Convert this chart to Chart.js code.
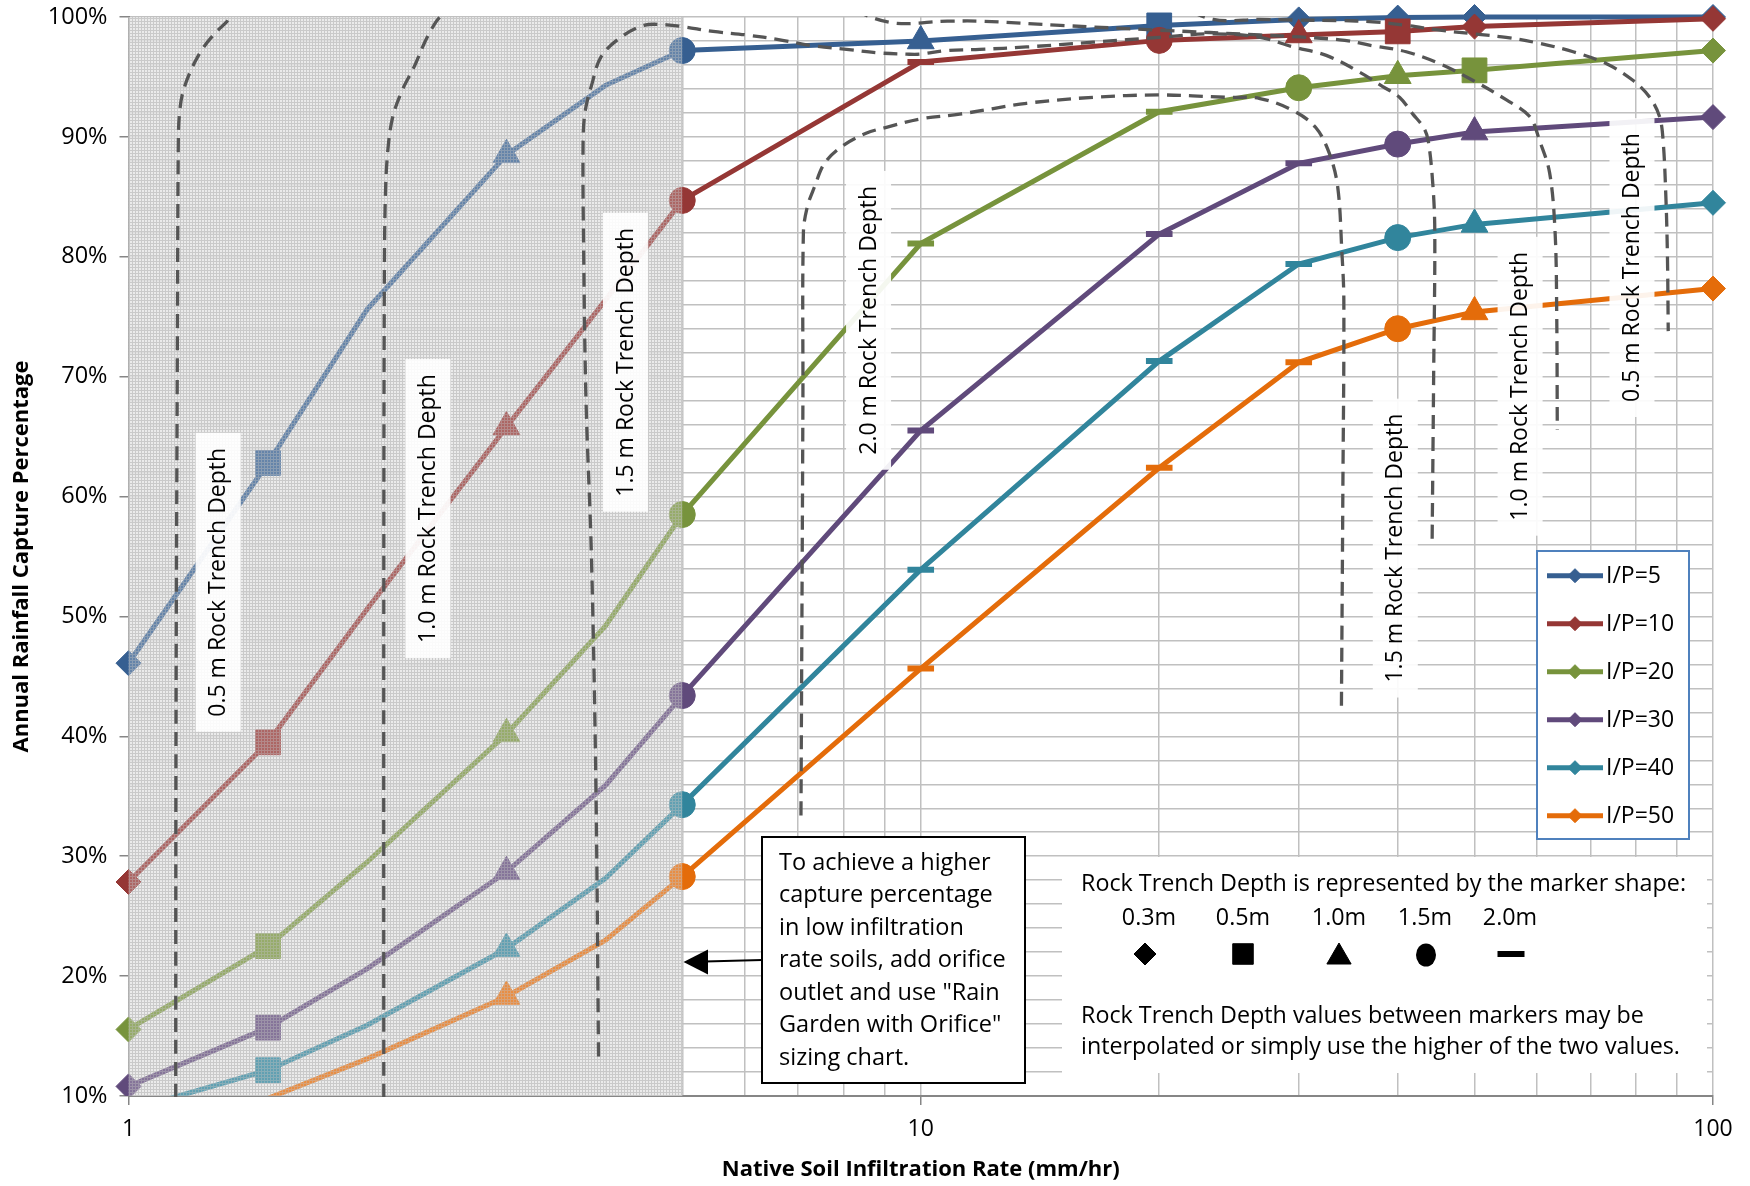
<!DOCTYPE html>
<html>
<head>
<meta charset="utf-8">
<script src="https://cdn.jsdelivr.net/npm/chart.js@4.4.1/dist/chart.umd.min.js"></script>
<style>
  html, body { margin: 0; padding: 0; background: #fff; }
  #wrap { width: 1750px; height: 1186px; position: relative; }
</style>
</head>
<body>
<div id="wrap"><canvas id="chart" width="1750" height="1186"></canvas></div>
<script>
// infiltration rates (mm/hr) where each curve was evaluated
const rates = [1, 1.5, 2, 3, 4, 5, 10, 20, 30, 40, 50, 100];
const seriesNames = ['I/P=5', 'I/P=10', 'I/P=20', 'I/P=30', 'I/P=40', 'I/P=50'];

// annual rainfall capture (%)
const ip5  = [46.1, 62.8, 75.6, 88.5, 94.3, 97.2, 98.0, 99.3, 99.8, 99.95, 100, 100];
const ip10 = [27.85, 39.5, 50.6, 65.8, 76.4, 84.7, 96.25, 98.05, 98.5, 98.8, 99.2, 99.85];
const ip20 = [15.55, 22.5, 29.5, 40.2, 49.2, 58.5, 81.1, 92.1, 94.1, 95.1, 95.55, 97.2];
const ip30 = [10.8, 15.7, 20.6, 28.7, 35.9, 43.4, 65.5, 81.9, 87.8, 89.4, 90.4, 91.65];
const ip40 = [8.8, 12.15, 15.9, 22.3, 28.15, 34.3, 53.9, 71.3, 79.4, 81.6, 82.7, 84.5];
const ip50 = [6.0, 9.8, 13.1, 18.3, 23.0, 28.3, 45.65, 62.4, 71.2, 74.0, 75.4, 77.35];

// rock trench depth (m) shown by the marker at each point, null = no marker
const depth5  = [0.3, 0.5, null, 1.0, null, 1.5, 1.0, 0.5, 0.3, 0.3, 0.3, 0.3];
const depth10 = [0.3, 0.5, null, 1.0, null, 1.5, 2.0, 1.5, 1.0, 0.5, 0.3, 0.3];
const depth20 = [0.3, 0.5, null, 1.0, null, 1.5, 2.0, 2.0, 1.5, 1.0, 0.5, 0.3];
const depth30 = [0.3, 0.5, null, 1.0, null, 1.5, 2.0, 2.0, 2.0, 1.5, 1.0, 0.3];
const depth40 = [0.3, 0.5, null, 1.0, null, 1.5, 2.0, 2.0, 2.0, 1.5, 1.0, 0.3];
const depth50 = [0.3, 0.5, null, 1.0, null, 1.5, 2.0, 2.0, 2.0, 1.5, 1.0, 0.3];

// rock trench depth contours [rate, capture %] (parts above 100% run off the chart)
const contour05 = [[1.147, 8], [1.148, 40], [1.153, 75], [1.156, 90], [1.16, 92], [1.17, 93.6], [1.196, 95.4],
  [1.236, 97.2], [1.28, 98.5], [1.33, 99.6], [1.36, 100.3], [2, 103], [6, 104], [14, 103], [20, 101.5],
  [23.4, 99.8], [26.8, 99.8], [29.5, 99.75], [33.8, 99.7], [37.2, 99.6], [41.0, 99.3], [45.2, 98.9],
  [49.8, 98.6], [54.8, 98.3], [60.4, 97.8], [66.6, 97.1], [73.4, 96.1], [79.3, 94.7], [83.2, 93.3],
  [85.6, 91.7], [86.5, 89.7], [87.2, 85], [87.6, 80], [87.8, 73.8]];
const contour10 = [[2.10, 8], [2.10, 50], [2.103, 76.4], [2.109, 84.7], [2.125, 88.9], [2.156, 91.7],
  [2.216, 93.9], [2.292, 95.8], [2.395, 98.6], [2.505, 100.3], [3, 102.5], [5, 103], [7.5, 101.5],
  [9.14, 99.55], [10.8, 99.65], [11.9, 99.65], [15, 99.3], [20, 98.9], [26.8, 98.5], [33.8, 98.1],
  [37.2, 97.6], [41.0, 97.1], [45.2, 96.1], [49.8, 94.7], [54.8, 93.1], [58.7, 91.7], [60.4, 89.7],
  [62.2, 87], [63.2, 82], [63.5, 75], [63.6, 65.6]];
const contour15 = [[3.92, 13.3], [3.89, 36], [3.84, 55], [3.78, 68], [3.755, 80], [3.748, 89.7],
  [3.772, 92.2], [3.845, 94.4], [3.95, 96.7], [4.18, 98.3], [4.47, 99.3], [4.78, 99.35], [5.01, 99.2],
  [5.47, 98.8], [6.03, 98.5], [6.64, 98.1], [7.31, 97.6], [8.06, 97.3], [8.88, 97.0], [9.6, 96.9],
  [9.97, 96.9], [10.78, 97.2], [11.87, 97.3], [13.6, 97.5], [16.5, 97.9], [20.0, 98.3], [23.4, 98.6],
  [26.8, 98.3], [29.5, 97.5], [32.5, 96.8], [35.8, 95.4], [38.3, 94.2], [40.2, 93.3], [41.8, 91.9],
  [43.1, 90.8], [43.7, 89.7], [44.3, 86], [44.55, 82], [44.4, 70], [44.2, 55.8]];
const contour20 = [[7.06, 33.4], [7.10, 68.0], [7.11, 82.0], [7.19, 84.15], [7.34, 85.8], [7.56, 87.8],
  [7.95, 89.2], [8.53, 90.3], [9.05, 90.8], [10.0, 91.5], [11.2, 91.9], [13.6, 92.8], [16.5, 93.3],
  [20.0, 93.5], [24.3, 93.3], [26.8, 93.2], [29.5, 92.2], [31.5, 90.8], [32.8, 88.6], [33.6, 85.8],
  [34.0, 80.5], [34.2, 76.4], [34.1, 60], [33.96, 42.3]];

// contour labels: [text, rate, capture %]
const contourLabels = [
  ['0.5 m Rock Trench Depth', 1.296, 52.85],
  ['1.0 m Rock Trench Depth', 2.384, 59.0],
  ['1.5 m Rock Trench Depth', 4.233, 71.2],
  ['2.0 m Rock Trench Depth', 8.58, 74.7],
  ['1.5 m Rock Trench Depth', 39.66, 55.7],
  ['1.0 m Rock Trench Depth', 57.0, 69.2],
  ['0.5 m Rock Trench Depth', 78.9, 79.1]
];

const xGridValues = [1, 2, 3, 4, 5, 6, 7, 8, 9, 10, 20, 30, 40, 50, 60, 70, 80, 90, 100];
const xLabelValues = [1, 10, 100];

const series = [ip5, ip10, ip20, ip30, ip40, ip50];
const depths = [depth5, depth10, depth20, depth30, depth40, depth50];
const colors = ['#365F91', '#953735', '#77933C', '#604A7B', '#31859C', '#E46C0A'];

const markerStyle = { 0.3: 'rectRot', 0.5: 'rect', 1: 'triangle', 1.5: 'circle', 2: 'line' };
const markerRadius = { 0.3: 12.5, 0.5: 17.5, 1: 15.5, 1.5: 13, 2: 13.3 };

Chart.defaults.font.family = '"Open Sans", sans-serif';
Chart.defaults.color = '#000';

function tile(size, paint) {
  const c = document.createElement('canvas');
  c.width = size; c.height = size;
  paint(c.getContext('2d'));
  return c;
}
// grey screen under the data in the 1-5 mm/hr band
const shadeTile = tile(3, p => {
  p.fillStyle = 'rgba(225,225,225,0.75)';
  p.fillRect(0, 0, 3, 3);
  p.fillStyle = 'rgba(185,185,185,0.75)';
  p.fillRect(0, 0, 3, 1);
  p.fillRect(0, 1, 1, 2);
});
// light grain on top of the data in that band
const grainTile = tile(3, p => {
  p.fillStyle = 'rgba(205,205,205,0.55)';
  p.fillRect(0, 0, 3, 1);
  p.fillRect(0, 1, 1, 2);
  p.fillStyle = 'rgba(245,245,245,0.25)';
  p.fillRect(1, 1, 2, 2);
});

const seriesSets = series.map((vals, i) => ({
  label: seriesNames[i],
  data: vals.map((v, j) => ({ x: rates[j], y: v })),
  borderColor: colors[i],
  backgroundColor: colors[i],
  borderWidth: 5,
  tension: 0,
  order: 6 - i,
  clip: { left: 30, top: 30, right: 30, bottom: 0 },
  pointStyle: ctx => markerStyle[depths[i][ctx.dataIndex]] || 'circle',
  pointRadius: ctx => {
    const d = depths[i][ctx.dataIndex];
    if (d == null || vals[ctx.dataIndex] < 10) return 0;
    return markerRadius[d];
  },
  pointBorderWidth: ctx => depths[i][ctx.dataIndex] === 2 ? 6 : 1,
  pointHoverRadius: 0
}));

const contourSets = [contour05, contour10, contour15, contour20].map(c => ({
  label: 'contour',
  data: c.map(p => ({ x: p[0], y: p[1] })),
  borderColor: '#555555',
  borderWidth: 3.3,
  borderDash: [14, 8],
  pointRadius: 0,
  tension: 0.35,
  order: 0,
  clip: 1,
  fill: false
}));

function vLabel(ctx, text, cx, cy) {
  ctx.save();
  ctx.translate(cx, cy);
  ctx.rotate(-Math.PI / 2);
  ctx.font = '23px "Open Sans"';
  const w = ctx.measureText(text).width;
  ctx.fillStyle = 'rgba(255,255,255,0.92)';
  ctx.fillRect(-w / 2 - 15, -22, w + 30, 45);
  ctx.fillStyle = '#000';
  ctx.textAlign = 'center';
  ctx.textBaseline = 'middle';
  ctx.fillText(text, 0, 1);
  ctx.restore();
}

function marker(ctx, style, r, x, y, color, bw) {
  ctx.save();
  ctx.fillStyle = color;
  ctx.strokeStyle = color;
  ctx.lineWidth = bw;
  Chart.helpers.drawPoint(ctx, { pointStyle: style, radius: r, borderWidth: bw, rotation: 0 }, x, y);
  ctx.restore();
}

function band(chart, pattern) {
  const { ctx, chartArea: a, scales: { x } } = chart;
  const x1 = x.getPixelForValue(1), x5 = x.getPixelForValue(5);
  ctx.save();
  ctx.fillStyle = ctx.createPattern(pattern, 'repeat');
  ctx.fillRect(x1, a.top, x5 - x1, a.bottom - a.top);
  ctx.restore();
}

const decor = {
  id: 'decor',
  beforeDatasetsDraw(chart) {
    band(chart, shadeTile);
  },
  afterDatasetDraw(chart, args) {
    if (args.index === 5) band(chart, grainTile);
  },
  afterDatasetsDraw(chart) {
    const { ctx, scales: { x, y } } = chart;
    contourLabels.forEach(l => vLabel(ctx, l[0], x.getPixelForValue(l[1]), y.getPixelForValue(l[2])));
  },
  afterDraw(chart) {
    const ctx = chart.ctx;
    ctx.save();
    // legend
    ctx.fillStyle = '#fff';
    ctx.fillRect(1537, 551, 152, 288);
    ctx.strokeStyle = '#4F81BD';
    ctx.lineWidth = 2;
    ctx.strokeRect(1537, 551, 152, 288);
    ctx.font = '23px "Open Sans"';
    ctx.textBaseline = 'middle';
    ctx.textAlign = 'left';
    seriesNames.forEach((n, i) => {
      const yy = 575.7 + i * 48;
      ctx.strokeStyle = colors[i];
      ctx.lineWidth = 5;
      ctx.beginPath(); ctx.moveTo(1547, yy); ctx.lineTo(1603, yy); ctx.stroke();
      marker(ctx, 'rectRot', 7, 1575, yy, colors[i], 1);
      ctx.fillStyle = '#000';
      ctx.fillText(n, 1606, yy + 1);
    });

    // orifice note with arrow
    ctx.fillStyle = '#fff';
    ctx.fillRect(762, 837, 263, 246);
    ctx.strokeStyle = '#000';
    ctx.lineWidth = 2;
    ctx.strokeRect(762, 837, 263, 246);
    const note = ['To achieve a higher', 'capture percentage', 'in low infiltration', 'rate soils, add orifice',
      'outlet and use "Rain', 'Garden with Orifice"', 'sizing chart.'];
    ctx.fillStyle = '#000';
    ctx.font = '23.5px "Open Sans"';
    note.forEach((t, i) => ctx.fillText(t, 779, 863 + i * 32.5));
    ctx.beginPath(); ctx.moveTo(762, 960); ctx.lineTo(705, 961.5); ctx.stroke();
    ctx.beginPath();
    ctx.moveTo(683.5, 962); ctx.lineTo(708, 949.5); ctx.lineTo(708, 974.5); ctx.closePath();
    ctx.fill();

    // marker key
    ctx.fillStyle = '#fff';
    ctx.fillRect(1062, 857, 645, 216);
    ctx.fillStyle = '#000';
    ctx.font = '23.3px "Open Sans"';
    ctx.fillText('Rock Trench Depth is represented by the marker shape:', 1081, 884);
    ctx.textAlign = 'center';
    const keyX = [1149, 1243, 1339, 1425, 1510];
    ['0.3m', '0.5m', '1.0m', '1.5m', '2.0m'].forEach((t, i) => ctx.fillText(t, keyX[i], 918));
    marker(ctx, 'rectRot', 11, 1145, 954, '#000', 1);
    marker(ctx, 'rect', 14.5, 1243, 954, '#000', 1);
    marker(ctx, 'triangle', 14, 1339, 957, '#000', 1);
    ctx.beginPath(); ctx.ellipse(1426, 955, 10, 11.5, 0, 0, Math.PI * 2); ctx.fill();
    ctx.fillRect(1497.5, 951, 27, 6);
    ctx.textAlign = 'left';
    ctx.fillText('Rock Trench Depth values between markers may be', 1081, 1016);
    ctx.fillText('interpolated or simply use the higher of the two values.', 1081, 1047);
    ctx.restore();
  }
};

new Chart(document.getElementById('chart'), {
  type: 'line',
  data: { datasets: [...seriesSets, ...contourSets] },
  options: {
    responsive: false,
    animation: false,
    layout: { padding: { top: 17, right: 37, left: 0, bottom: 0 } },
    plugins: { legend: { display: false }, tooltip: { enabled: false } },
    scales: {
      x: {
        type: 'logarithmic',
        min: 1,
        max: 100,
        afterBuildTicks: s => { s.ticks = xGridValues.map(v => ({ value: v })); },
        grid: {
          color: '#c0c0c0',
          lineWidth: 1.5,
          tickLength: 9,
          tickColor: c => (c.tick && xLabelValues.includes(c.tick.value)) ? '#868686' : 'rgba(0,0,0,0)'
        },
        border: { color: '#868686', width: 2 },
        ticks: {
          autoSkip: false,
          maxRotation: 0,
          padding: 11,
          font: { size: 23 },
          callback: v => xLabelValues.includes(v) ? String(v) : ''
        },
        title: {
          display: true,
          text: 'Native Soil Infiltration Rate (mm/hr)',
          font: { size: 22, weight: 'bold' },
          padding: { top: 2, bottom: 3 }
        }
      },
      y: {
        type: 'linear',
        min: 10,
        max: 100,
        afterFit: s => { s.width = 128.5; s.paddingTop = 0; s.paddingBottom = 0; },
        grid: {
          color: '#c0c0c0',
          lineWidth: 1.5,
          tickLength: 9,
          tickColor: c => (c.tick && c.tick.value % 10 === 0) ? '#868686' : 'rgba(0,0,0,0)'
        },
        border: { color: '#868686', width: 2 },
        ticks: {
          stepSize: 2,
          autoSkip: false,
          padding: 12,
          font: { size: 23.5 },
          callback: v => v % 10 === 0 ? v + '%' : ''
        },
        title: {
          display: true,
          text: 'Annual Rainfall Capture Percentage',
          font: { size: 22, weight: 'bold' },
          padding: { top: 9, bottom: 0 }
        }
      }
    }
  },
  plugins: [decor]
});
</script>
</body>
</html>
